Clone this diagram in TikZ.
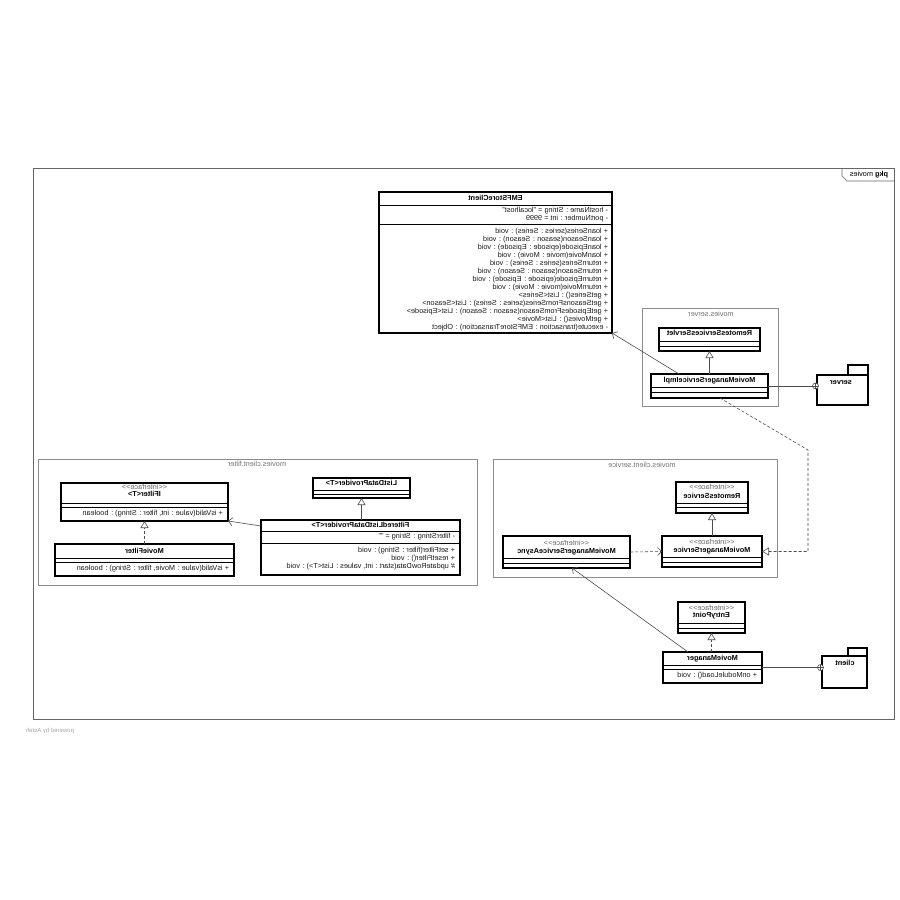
\documentclass[tikz,border=0pt]{standalone}
\usepackage{fontspec}
\setmainfont{Liberation Sans}
\usepackage{graphicx}
\usetikzlibrary{arrows.meta,calc}
\tikzset{
  clsbox/.style={rectangle, draw=black, line width=1.1pt, fill=white, inner sep=0pt, outer sep=0pt},
  pkgframe/.style={rectangle, draw=black!45, line width=0.6pt, inner sep=0pt, outer sep=0pt},
  mainframe/.style={draw=black!60, line width=0.7pt},
  divline/.style={draw=black, line width=0.5pt},
  txt/.style={inner sep=0pt, outer sep=0pt, text=black!90, font=\fontsize{7.3}{8}\selectfont, text height=5.2pt, text depth=1.5pt},
  nametxt/.style={txt, font=\fontsize{7.3}{8}\selectfont\bfseries, text=black},
  stereotxt/.style={txt, text=black!60},
  pkgtxt/.style={txt, text=black!55},
  conn/.style={draw=black!70, line width=0.6pt},
  gen/.style={conn, -{Triangle[open, length=7pt, width=8pt]}},
  realz/.style={conn, dash pattern=on 3pt off 2pt, -{Triangle[open, length=7pt, width=8pt]}},
  depend/.style={conn, dash pattern=on 3pt off 2pt, -{Straight Barb[length=4pt, width=8pt]}},
  assoc/.style={conn, -{Straight Barb[length=4pt, width=8pt]}},
  cplus/.style={circle, draw=black!70, line width=0.6pt, fill=white, minimum size=6pt, inner sep=0pt, outer sep=0pt,
    path picture={\draw[black!70, line width=0.5pt] (path picture bounding box.north) -- (path picture bounding box.south)
      (path picture bounding box.west) -- (path picture bounding box.east);}},
}
\newcommand{\cls}[5]{\node[clsbox, minimum width={#3-#2}, minimum height={#5-#4}] (#1) at ({(#2+#3)/2},{(#4+#5)/2}) {};}
\newcommand{\pkgbox}[5]{\node[pkgframe, minimum width={#3-#2}, minimum height={#5-#4}] (#1) at ({(#2+#3)/2},{(#4+#5)/2}) {};}
\newcommand{\dv}[2]{\draw[divline] (#1.west |- 0,#2) -- (#1.east |- 0,#2);}
\newcommand{\rtx}[4]{\node[txt, anchor=east] (#1) at (#2,#3) {\reflectbox{#4}};}
\newcommand{\nmx}[4]{\node[nametxt] (#1) at (#2,#3) {\reflectbox{#4}};}
\newcommand{\stx}[3]{\node[stereotxt] (#1) at (#2,#3) {\reflectbox{<{}<interface>{}>}};}
\begin{document}
\begin{tikzpicture}[x=1pt, y=-1pt]
\fill[white] (0,0) rectangle (900,900);
\path[use as bounding box] (0,0) rectangle (900,900);

% main frame
\draw[mainframe] (33,168) rectangle (894,719);
\draw[mainframe] (894,181) -- (847,181) -- (842,176) -- (842,168);
\node[txt, text=black] (pkgmovies) at (869,175) {\reflectbox{\textbf{pkg} movies}};
\node[txt, text=black!35, font=\fontsize{6}{7}\selectfont] (powered) [anchor=east] at (74,731) {\reflectbox{powered by Astah}};

% package frames
\pkgbox{pserver}{642}{778}{308}{406}
\node[pkgtxt] (pserverlbl) at (711,315) {\reflectbox{movies.server}};
\pkgbox{pfilter}{38}{477}{459}{585}
\node[pkgtxt] (pfilterlbl) at (257,465) {\reflectbox{movies.client.filter}};
\pkgbox{pservice}{493}{777}{459}{577}
\node[pkgtxt] (pservicelbl) at (642,466) {\reflectbox{movies.client.service}};

% EMFStoreClient
\cls{emf}{379}{612}{192}{333}
\nmx{emfn}{495.5}{199}{EMFStoreClient}
\dv{emf}{205}
\rtx{emfa1}{608}{211}{- hostName : String = "localhost"}
\rtx{emfa2}{608}{219}{- portNumber : int = 9999}
\dv{emf}{224}
\rtx{emfo1}{608}{232}{+ loanSeries(series : Series) : void}
\rtx{emfo2}{608}{240}{+ loanSeason(season : Season) : void}
\rtx{emfo3}{608}{248}{+ loanEpisode(episode : Episode) : void}
\rtx{emfo4}{608}{256}{+ loanMovie(movie : Movie) : void}
\rtx{emfo5}{608}{264}{+ returnSeries(series : Series) : void}
\rtx{emfo6}{608}{272}{+ returnSeason(season : Season) : void}
\rtx{emfo7}{608}{280}{+ returnEpisode(episode : Episode) : void}
\rtx{emfo8}{608}{288}{+ returnMovie(movie : Movie) : void}
\rtx{emfo9}{608}{296}{+ getSeries() : List<Series>}
\rtx{emfo10}{608}{304}{+ getSeasonsFromSeries(series : Series) : List<Season>}
\rtx{emfo11}{608}{312}{+ getEpisodesFromSeason(season : Season) : List<Episode>}
\rtx{emfo12}{608}{320}{+ getMovies() : List<Movie>}
\rtx{emfo13}{608}{328}{- execute(transaction : EMFStoreTransaction) : Object}

% movies.server
\cls{servlet}{659}{760}{328}{351}
\nmx{servletn}{709.5}{334}{RemotesServicesServlet}
\dv{servlet}{341}\dv{servlet}{346}
\cls{impl}{651}{768}{374}{398}
\nmx{impln}{709.5}{381}{MovieManagerServiceImpl}
\dv{impl}{387}\dv{impl}{392}

% server package icon
\node[clsbox, minimum width=20, minimum height=10] (srvtab) at (858,370) {};
\node[clsbox, minimum width=51, minimum height=30] (srvbody) at (842.5,390) {};
\nmx{srvlbl}{841}{383}{server}

% filter package
\cls{ifilter}{61}{228}{483}{521}
\stx{ifilters}{144.5}{488}
\nmx{ifiltern}{144.5}{495}{IFilter<T>}
\dv{ifilter}{503}\dv{ifilter}{507}
\rtx{ifiltero}{223}{514}{+ isValid(value : int, filter : String) : boolean}
\cls{mfilter}{55}{234}{544}{576}
\nmx{mfiltern}{144.5}{552}{MovieFilter}
\dv{mfilter}{558}\dv{mfilter}{562}
\rtx{mfiltero}{229}{569}{+ isValid(value : Movie, filter : String) : boolean}
\cls{ldp}{313}{410}{478}{498}
\nmx{ldpn}{361.5}{484}{ListDataProvider<T>}
\dv{ldp}{490}\dv{ldp}{494}
\cls{fldp}{261}{460}{520}{575}
\nmx{fldpn}{360.5}{526}{FilteredListDataProvider<T>}
\dv{fldp}{531}
\rtx{fldpa}{455}{537}{- filterString : String = ""}
\dv{fldp}{543}
\rtx{fldpo1}{455}{551}{+ setFilter(filter : String) : void}
\rtx{fldpo2}{455}{559}{+ resetFilter() : void}
\rtx{fldpo3}{455}{567}{\# updateRowData(start : int, values : List<T>) : void}

% service package
\cls{rsvc}{676}{748}{482}{513}
\stx{rsvcs}{712}{488}
\nmx{rsvcn}{712}{497}{RemotesService}
\dv{rsvc}{503}\dv{rsvc}{507}
\cls{mms}{662}{762}{536}{567}
\stx{mmss}{712}{543}
\nmx{mmsn}{712}{551}{MovieManagerService}
\dv{mms}{557}\dv{mms}{562}
\cls{async}{503}{630}{536}{568}
\stx{asyncs}{566.5}{544}
\nmx{asyncn}{566.5}{552}{MovieManagerServiceAsync}
\dv{async}{558}\dv{async}{563}

% client classes
\cls{entry}{678}{745}{602}{633}
\stx{entrys}{711.5}{609}
\nmx{entryn}{711.5}{616}{EntryPoint}
\dv{entry}{623}\dv{entry}{628}
\cls{mm}{663}{762}{652}{683}
\nmx{mmn}{712.5}{659}{MovieManager}
\dv{mm}{665}\dv{mm}{669}
\rtx{mmo}{757}{676}{+ onModuleLoad() : void}

% client package icon
\node[clsbox, minimum width=19, minimum height=8] (clitab) at (857.5,652) {};
\node[clsbox, minimum width=45, minimum height=32] (clibody) at (844.5,672) {};
\nmx{clilbl}{845}{664}{client}

% connectors
\draw[assoc] ($(impl.north west)+(28,0)$) -- (emf.south east);
\draw[gen] (impl.north) -- (servlet.south);
\node[cplus, anchor=east] (cp1) at ($(srvbody.west |- impl.east)+(1.5,0)$) {};
\draw[conn] (impl.east) -- (cp1.west);
\coordinate (b1) at (808,450);
\coordinate (b2) at (b1 |- mms.east);
\draw[realz] ($(impl.south west)+(69,0)$) -- (b1) -- (b2) -- (mms.east);
\draw[depend] (async.east) -- (mms.west);
\draw[gen] (rsvc.south |- mms.north) -- (rsvc.south);
\draw[assoc] ($(mm.north west)+(25,0)$) -- ($(async.south west)+(69,0)$);
\draw[realz] (entry.south |- mm.north) -- (entry.south);
\node[cplus, anchor=east] (cp2) at ($(clibody.west |- mm.east)+(1.5,0)$) {};
\draw[conn] (mm.east) -- (cp2.west);
\draw[realz] (mfilter.north) -- (ifilter.south);
\draw[gen] (ldp.south |- fldp.north) -- (ldp.south);
\draw[assoc] ($(fldp.north west)+(0,6)$) -- (ifilter.south east);
\end{tikzpicture}
\end{document}
